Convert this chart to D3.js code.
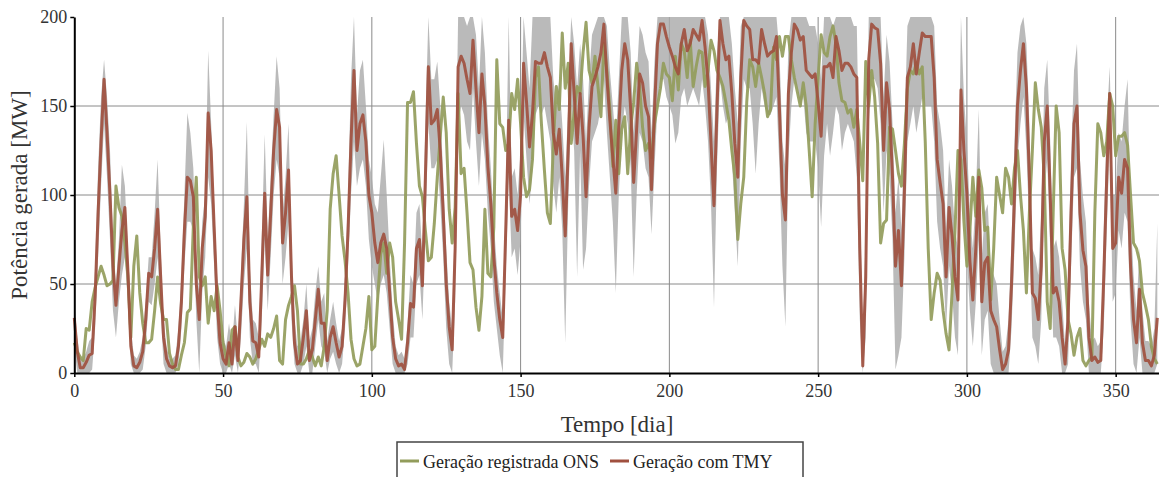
<!DOCTYPE html>
<html>
<head>
<meta charset="utf-8">
<script src="https://cdn.jsdelivr.net/npm/d3@7"></script>
<style>
  body { margin: 0; background: #fff; }
  svg { display: block; }
  svg text { font-family: "Liberation Serif", "Times New Roman", serif; }
</style>
</head>
<body>
<svg id="chart" width="1159" height="477"></svg>
<script>
// Series names (legend)
const seriesNames = ["Geração registrada ONS", "Geração com TMY"];

// Daily values, day 0 .. 364
const onsValues = [
  17,12,9,7,25,24,40,48,54,60, 55,49,50,52,105,93,88,73,55,20,
  60,77,45,28,17,17,19,35,54,39, 30,30,11,5,2,2,10,17,34,36,
  82,110,54,49,54,28,43,35,49,35, 17,9,4,24,26,9,4,6,11,9,
  5,8,13,19,15,22,20,25,32,7, 5,30,38,43,49,35,5,5,8,13,
  9,4,9,4,15,35,92,112,122,100, 77,63,45,19,8,4,5,15,25,43,
  13,15,43,67,73,56,73,65,40,30, 19,73,152,152,158,129,105,99,80,63,
  65,84,110,133,155,135,92,73,93,157, 112,115,90,62,58,37,24,43,92,56,
  54,82,176,140,138,125,129,157,148,165, 140,110,99,103,120,166,172,140,114,90,
  84,129,161,148,191,160,174,129,146,161, 157,180,197,170,163,178,161,144,185,170,
  148,116,142,112,137,144,112,138,152,174, 161,138,125,129,121,140,150,160,174,168,
  166,153,178,159,185,181,166,187,161,172, 181,180,161,170,187,181,170,166,161,152,
  142,125,110,75,95,110,152,176,172,161, 174,166,157,144,148,183,176,189,178,189,
  189,176,166,158,150,163,150,125,99,140, 166,190,180,178,189,195,185,163,153,152,
  146,148,138,148,129,108,175,150,170,155, 129,73,84,86,138,137,125,112,105,129,
  160,170,168,174,168,172,130,70,30,45, 56,52,35,22,13,45,80,125,120,85,
  60,80,110,88,114,104,80,82,41,70, 110,100,90,115,110,95,115,125,100,80,
  45,90,125,163,148,138,110,40,25,90, 150,135,70,58,30,22,10,20,25,7,
  4,7,9,90,140,135,122,130,157,150, 122,133,133,135,128,100,73,70,63,45,
  38,30,15,8,5
];

const tmyValues = [
  31,12,3,3,6,10,11,43,90,130, 165,135,100,60,38,60,80,93,58,15,
  4,3,6,12,30,56,54,70,92,55, 20,8,4,3,4,15,40,80,110,108,
  99,50,30,70,88,146,125,82,40,17, 8,5,17,5,26,7,40,75,99,40,
  18,17,9,54,101,55,90,125,148,138, 73,90,114,54,17,5,7,20,35,7,
  13,30,47,28,28,7,20,26,17,9, 15,41,80,130,170,125,140,145,130,100,
  90,73,62,73,78,70,45,20,8,4, 5,2,17,39,37,70,75,49,110,172,
  140,142,148,125,90,50,26,13,70,172, 178,174,165,157,187,160,135,168,150,116,
  95,65,45,30,20,80,142,88,92,80, 100,174,152,127,146,175,174,174,180,172,
  166,135,123,137,110,77,125,185,157,129, 157,133,99,138,161,166,172,180,196,166,
  142,121,101,138,170,185,176,148,107,137, 168,163,150,144,103,148,185,196,196,189,
  183,178,172,168,185,193,181,185,193,190, 187,198,183,164,129,94,148,198,185,176,
  178,157,129,110,166,198,195,193,176,176, 174,193,185,178,180,181,189,148,100,86,
  157,180,196,193,187,189,170,168,166,168, 152,133,172,172,174,166,189,181,170,174,
  174,172,168,166,70,4,54,176,196,194, 193,174,125,163,148,110,60,80,49,103,
  166,172,185,168,180,191,189,189,189,166, 120,107,95,54,93,77,54,41,159,125,
  101,63,41,70,110,40,62,65,35,30, 26,13,2,5,13,50,100,150,170,185,
  160,110,45,42,30,60,130,150,100,45, 48,40,20,5,30,90,140,150,90,69,
  60,20,7,9,6,7,54,110,157,70, 73,110,101,120,115,60,30,17,47,17,
  7,7,4,10,31
];

// Grey band around the TMY series (lower / upper edge)
const bandLow = [
  15,0,0,0,0,0,2,25,65,105, 140,110,75,35,20,40,55,65,40,5,
  0,0,0,2,15,40,38,50,65,35, 5,0,0,0,0,5,25,60,85,85,
  80,30,0,45,65,110,95,60,20,5, 0,0,5,0,10,0,20,50,70,20,
  5,5,0,30,75,35,65,100,120,110, 50,65,85,30,5,0,0,5,15,0,
  0,15,30,15,12,0,8,12,5,0, 5,25,60,100,130,105,115,120,105,75,
  60,50,40,50,55,45,25,5,0,0, 0,0,5,20,20,50,55,30,80,140,
  115,115,120,95,65,25,5,0,40,140, 150,145,130,125,160,130,105,135,120,90,
  70,40,25,10,0,55,110,65,70,55, 75,145,120,95,115,145,150,145,150,140,
  130,105,90,110,80,17,95,150,125,54, 125,58,70,105,130,135,140,150,165,135,
  110,85,45,100,135,150,140,115,54,100, 135,130,115,110,78,115,150,165,165,155,
  150,145,129,135,155,160,150,155,160,155, 150,165,150,130,95,37,115,165,150,140,
  145,120,90,60,130,165,160,160,140,112, 140,160,150,145,145,150,155,115,60,26,
  120,150,165,160,150,155,135,130,130,130, 115,82,122,140,122,135,150,145,125,135,
  140,135,130,110,30,0,20,140,165,165, 160,140,90,125,110,75,2,10,20,65,
  130,140,150,135,145,155,150,150,150,130, 85,70,60,25,60,45,20,10,120,90,
  65,35,15,40,75,10,30,35,5,0, 0,0,0,0,0,25,70,120,140,155,
  125,80,20,15,5,30,100,120,70,20, 20,15,0,0,5,60,110,115,60,40,
  30,0,0,0,0,0,25,80,130,40, 45,80,70,90,85,30,5,0,20,0,
  0,0,0,0,5
];

const bandHigh = [
  40,20,8,8,12,18,20,60,115,155, 176,155,125,75,50,75,117,105,70,25,
  10,8,12,20,40,65,65,90,120,70, 30,15,8,8,10,25,55,100,146,135,
  115,65,45,85,100,181,140,95,55,30, 20,15,28,15,38,18,55,95,141,60,
  30,28,20,75,134,75,110,145,178,160, 90,110,140,70,30,15,18,30,50,18,
  25,45,60,40,45,18,30,40,28,18, 25,55,100,165,200,145,170,176,150,120,
  110,95,90,110,131,100,65,35,15,10, 12,8,28,55,50,90,95,65,140,200,
  165,165,175,150,110,70,40,25,95,200, 200,200,195,200,200,190,160,200,180,140,
  115,85,60,45,30,100,200,110,115,100, 125,200,180,160,200,200,200,200,200,200,
  200,165,150,165,140,110,150,200,185,160, 185,165,130,165,190,195,200,200,200,195,
  170,150,130,165,200,200,200,180,135,165, 195,190,180,175,135,175,200,200,200,200,
  200,200,200,200,200,200,200,200,200,200, 200,200,200,190,160,130,180,200,200,200,
  200,185,160,140,195,200,200,200,200,200, 200,200,200,200,200,200,200,180,130,115,
  185,200,200,200,200,200,200,195,195,195, 185,165,200,200,200,195,200,200,200,200,
  200,200,195,195,100,20,80,200,200,200, 200,200,155,190,175,140,90,110,80,135,
  195,200,200,200,200,200,200,200,200,195, 150,140,125,80,120,105,80,70,200,155,
  130,90,70,100,148,65,90,95,60,55, 50,30,12,15,30,75,130,180,195,200,
  185,140,70,65,55,90,160,176,130,70, 75,65,40,15,55,120,170,185,120,99,
  85,40,18,20,15,18,80,140,172,100, 100,135,130,150,165,90,55,35,70,35,
  18,18,15,25,84
];

// Axis ticks
const xTicks = [0, 50, 100, 150, 200, 250, 300, 350];
const yTicks = [0, 50, 100, 150, 200];
const xLabel = "Tempo [dia]";
const yLabel = "Potência gerada [MW]";

const colors = { ons: "#929c5b", tmy: "#a0503f", band: "#a9a9a9" };
const serif = "'Liberation Serif', 'Times New Roman', serif";

const svg = d3.select("#chart");

const x = d3.scaleLinear().domain([0, 365]).range([74.3, 1160.3]);
const y = d3.scaleLinear().domain([0, 200]).range([373, 17]);

// grid
const grid = svg.append("g");
grid.selectAll(".vg")
  .data(xTicks.filter(d => d > 0))
  .enter().append("line")
  .attr("x1", d => x(d)).attr("x2", d => x(d))
  .attr("y1", y(0)).attr("y2", y(200))
  .attr("stroke", "#8a8a8a").attr("stroke-width", 1);
grid.selectAll(".hg")
  .data(yTicks.filter(d => d > 0 && d < 200))
  .enter().append("line")
  .attr("x1", x(0)).attr("x2", 1159)
  .attr("y1", d => y(d)).attr("y2", d => y(d))
  .attr("stroke", "#8a8a8a").attr("stroke-width", 1);

// band
const bandData = bandLow.map((lo, i) => ({ day: i, lo: lo, hi: bandHigh[i] }));
svg.append("path")
  .datum(bandData)
  .attr("fill", colors.band)
  .attr("fill-opacity", 0.8)
  .attr("d", d3.area()
    .x(d => x(d.day))
    .y0(d => y(d.lo))
    .y1(d => y(d.hi)));

// lines
const line = d3.line()
  .x((d, i) => x(i))
  .y(d => y(d));

svg.append("path")
  .datum(onsValues)
  .attr("fill", "none")
  .attr("stroke", colors.ons)
  .attr("stroke-opacity", 0.92)
  .attr("stroke-width", 3)
  .attr("stroke-linejoin", "round")
  .attr("d", line);

svg.append("path")
  .datum(tmyValues)
  .attr("fill", "none")
  .attr("stroke", colors.tmy)
  .attr("stroke-opacity", 0.92)
  .attr("stroke-width", 3)
  .attr("stroke-linejoin", "round")
  .attr("d", line);

// axes
const xAxis = svg.append("g")
  .attr("transform", `translate(0,${y(0)})`)
  .call(d3.axisBottom(x).tickValues(xTicks).tickSize(4).tickSizeOuter(0));
const yAxis = svg.append("g")
  .attr("transform", `translate(${x(0)},0)`)
  .call(d3.axisLeft(y).tickValues(yTicks).tickSize(4).tickSizeOuter(0));

[xAxis, yAxis].forEach(g => {
  g.attr("font-family", serif);
  g.select(".domain").attr("stroke", "#000").attr("stroke-width", 2);
  g.selectAll(".tick line").attr("stroke", "#000").attr("stroke-width", 1.5);
  g.selectAll(".tick text")
    .attr("fill", "#333")
    .style("font-size", "18px")
    .style("font-family", serif);
});
xAxis.selectAll(".tick text").attr("dy", "0.95em");
yAxis.selectAll(".tick text").attr("x", -7);

// axis titles
svg.append("text")
  .attr("x", 617).attr("y", 432)
  .attr("text-anchor", "middle")
  .attr("fill", "#333")
  .style("font-size", "23px")
  .style("font-family", serif)
  .text(xLabel);

svg.append("text")
  .attr("transform", `translate(27,${y(100)}) rotate(-90)`)
  .attr("text-anchor", "middle")
  .attr("fill", "#333")
  .style("font-size", "23px")
  .style("font-family", serif)
  .text(yLabel);

// legend
const legend = svg.append("g").attr("transform", "translate(397,442)");
legend.append("rect")
  .attr("x", 0).attr("y", 0)
  .attr("width", 406).attr("height", 44)
  .attr("fill", "#fff")
  .attr("stroke", "#444").attr("stroke-width", 1.5);

const legendItems = [
  { name: seriesNames[0], color: colors.ons, x: 3 },
  { name: seriesNames[1], color: colors.tmy, x: 213 }
];
legendItems.forEach(it => {
  legend.append("line")
    .attr("x1", it.x).attr("x2", it.x + 19)
    .attr("y1", 19).attr("y2", 19)
    .attr("stroke", it.color).attr("stroke-width", 3);
  legend.append("text")
    .attr("x", it.x + 23).attr("y", 26)
    .attr("fill", "#222")
    .style("font-size", "18px")
    .style("font-family", serif)
    .text(it.name);
});
</script>
</body>
</html>
